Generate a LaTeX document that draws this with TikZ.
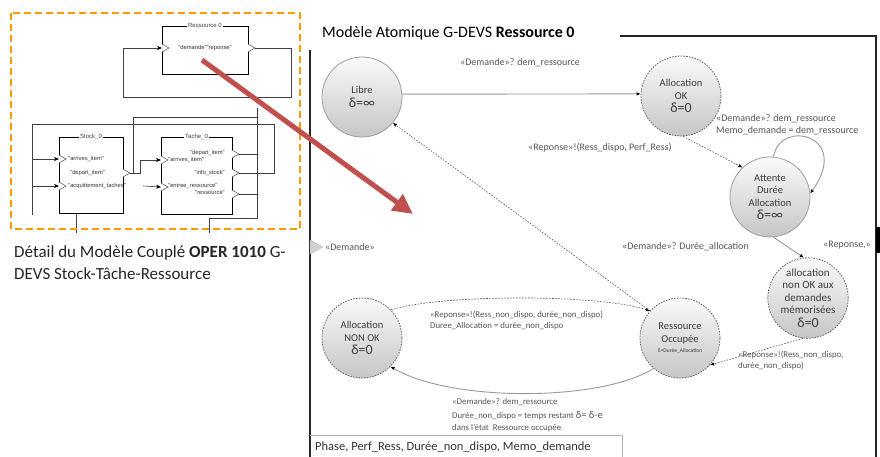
\documentclass[tikz,border=0pt]{standalone}
\usepackage{fontspec}
\setmainfont{Carlito}
\newfontfamily\schemfont{Liberation Sans}
\usetikzlibrary{arrows.meta,calc}
\definecolor{orangeD}{RGB}{255,153,0}
\definecolor{redA}{RGB}{192,80,77}
\definecolor{labc}{RGB}{88,86,80}
\definecolor{statec}{RGB}{60,60,60}
\newcommand\porttri[1]{\draw[port] ($(#1)+(0,-4)$) -- ++(7,4) -- ++(-7,4);}
\newcommand\dlt[1]{{\fontsize{14}{16}\selectfont #1}}
\begin{document}
\begin{tikzpicture}[x=1pt,y=-1pt,
  cl/.style={draw=gray!50!black, line width=0.6pt},
  ca/.style={cl, -{Stealth[length=5pt,width=4pt,color=black]}},
  cbox/.style={draw=black, line width=0.9pt, fill=white, inner sep=0pt},
  ctitle/.style={fill=white, inner sep=1pt, font=\schemfont\fontsize{6}{7}\selectfont, text=gray!50!black},
  ctext/.style={inner sep=0pt, font=\schemfont\fontsize{5.8}{7}\selectfont, text=gray!40!black},
  port/.style={draw=gray!55!black, fill=white, line width=0.5pt},
  st/.style={circle, minimum size=80pt, inner sep=0pt, align=center, text=statec,
     font=\fontsize{10.5}{12.5}\selectfont, top color=gray!4, bottom color=gray!45,
     draw=gray!75, line width=0.8pt},
  stdash/.style={st, draw=black!60, dash pattern=on 1.6pt off 1.2pt},
  tr/.style={draw=gray!80, line width=0.9pt, -{Latex[length=4pt,width=3.5pt,color=black]}},
  dt/.style={draw=black!65, line width=0.6pt, dash pattern=on 1.6pt off 1.4pt, -{Latex[length=4pt,width=3.5pt,color=black]}},
  lb/.style={anchor=west, inner sep=0pt, text=labc, font=\fontsize{10}{12}\selectfont},
  lbs/.style={anchor=west, inner sep=0pt, text=labc, font=\fontsize{8.8}{11}\selectfont},
]
\useasboundingbox (0,0) rectangle (880,457);
\fill[white] (0,0) rectangle (880,457);

% ---------------- coupled model ----------------
\coordinate (rin) at (162,48);
\coordinate (rout) at (255,48);
\coordinate (sin1) at (59,159);
\coordinate (sin2) at (59,186);
\coordinate (sout) at (130,173);
\coordinate (tin1) at (161,160);
\coordinate (tin2) at (161,187);
\coordinate (tout1) at (239,154);
\coordinate (tout2) at (239,173);
\coordinate (tout3) at (239,194);
\coordinate (acq) at (143,186);

\draw[ca] (rout) -| (291,97) -| (123,48) -- (rin);
\draw[cl] (tout2) -| (274,124) -| (32,215);
\draw[ca] (32,159) -- (sin1);
\draw[ca] (32,186) -- (sin2);
\draw[ca] (sout) -- (140,173) |- (tin1);
\draw[cl] (133,173) |- (257,117);
\draw[cl] (tout1) -- (257,154);
\draw[cl] (tout3) -- (257,194);
\draw[cl] (257,108) -- (257,218) -| (209,233);
\draw[cl] (76,213) -- (76,233);

\node[cbox, minimum width=86pt, minimum height=48pt] (res) at (205,50) {};
\node[cbox, minimum width=64pt, minimum height=76pt] (stock) at (91,175) {};
\node[cbox, minimum width=71pt, minimum height=77pt] (tache) at (196.5,175.5) {};
\node[ctitle] (rest) at (res.north) {Ressource 0};
\node[ctitle] (stockt) at (stock.north) {Stock\_0};
\node[ctitle] (tachet) at (tache.north) {Tache\_0};

\porttri{rin}
\porttri{248,48}
\porttri{sin1}
\porttri{sin2}
\porttri{123,173}
\porttri{tin1}
\porttri{tin2}
\porttri{232,154}
\porttri{232,173}
\porttri{232,194}
\draw[ca] (acq) -- (tin2);

\node[ctext] (rtx) at (205,48) {"demande""reponse"};
\node[ctext, anchor=west] (s1) at (68,159) {"arrives\_item"};
\node[ctext, anchor=west] (s2) at (70,173) {"depart\_item"};
\node[ctext, anchor=west] (s3) at (68,186) {"acquittement\_taches"};
\node[ctext, anchor=east] (t1) at (225,153) {"depart\_item"};
\node[ctext, anchor=west] (t2) at (168,160) {"arrives\_item"};
\node[ctext, anchor=east] (t3) at (225,173) {"info\_stock"};
\node[ctext, anchor=west] (t4) at (168,186) {"entree\_ressource"};
\node[ctext, anchor=east] (t5) at (225,193) {"ressource"};

\draw[orangeD, line width=2.5pt, dash pattern=on 7pt off 4pt] (11,13) rectangle (300,229);

\node[anchor=base west, inner sep=0pt, font=\fontsize{17}{19}\selectfont, text=black!85] (cap1) at (14,257) {Détail du Modèle Couplé \textbf{OPER 1010} G-};
\node[anchor=base west, inner sep=0pt, font=\fontsize{17}{19}\selectfont, text=black!85] (cap2) at (14,279) {DEVS Stock-Tâche-Ressource};

% ---------------- atomic model frame ----------------
\node[anchor=base west, inner sep=0pt, font=\fontsize{16}{18}\selectfont, text=black] (title) at (322,38) {Modèle Atomique G-DEVS \textbf{Ressource 0}};
\draw[black!85, line width=1.8pt] (620,36) -- (876,36) -- (876,457);
\draw[black!85, line width=2.2pt] (310,50) -- (310,457);
\fill[black] (876,227) rectangle (880,253);
\draw[fill=gray!35, draw=gray!60] (310,240) -- (323,247) -- (310,254) -- cycle;
\draw[gray!60, line width=1pt] (310,435) -| (622,457);
\node[anchor=west, inner sep=0pt, font=\fontsize{12.5}{14}\selectfont, text=black!80] (vars) at (315,447) {Phase, Perf\_Ress, Durée\_non\_dispo, Memo\_demande};

% ---------------- states ----------------
\node[st] (libre) at (362,97) {Libre\\[1pt]\dlt{δ=∞}};
\node[stdash] (allocok) at (681,96) {Allocation\\OK\\[1pt]\dlt{δ=0}};
\node[st] (attente) at (770,197) {Attente\\Durée\\Allocation\\[1pt]\dlt{δ=∞}};
\node[stdash, font=\fontsize{11}{12.5}\selectfont] (nonokmem) at (808,298) {allocation\\non OK aux\\demandes\\mémorisées\\[1pt]\dlt{δ=0}};
\node[stdash] (occ) at (680,338) {Ressource\\Occupée\\[-2pt]{\fontsize{5.5}{6}\selectfont δ=Durée\_Allocation}};
\node[stdash] (nonok) at (362,338) {Allocation\\NON OK\\[1pt]\dlt{δ=0}};

% ---------------- transitions ----------------
\draw[tr] (libre.4) -- (allocok.177);
\draw[dt] (allocok.-87) -- (attente.133);
\draw[tr] (attente.85) .. controls (780,118) and (852,135) .. (attente.5);
\draw[tr] (attente.-85) -- (nonokmem.96);
\draw[dt] (occ.138) -- (libre.-40);
\draw[dt] (nonok.44) .. controls (440,294) and (600,294) .. (occ.138);
\draw[dt] (nonokmem.-97) -- (occ.-42);
\draw[tr] (occ.-131) .. controls (600,402) and (450,402) .. (nonok.-45);

% ---------------- labels ----------------
\node[lb] (l1) at (460,63) {«Demande»? dem\_ressource};
\node[lb] (l2) at (528,148) {«Reponse»!(Ress\_dispo, Perf\_Ress)};
\node[lb, align=left] (l3) at (716,125) {«Demande»? dem\_ressource\\Memo\_demande = dem\_ressource};
\node[lb] (l4) at (325,247) {«Demande»};
\node[lb] (l5) at (622,247) {«Demande»? Durée\_allocation};
\node[lb] (l6) at (823,245) {«Reponse,»};
\node[lbs, align=left] (l7) at (738,360) {«Reponse»!(Ress\_non\_dispo,\\durée\_non\_dispo)};
\node[lbs, align=left] (l8) at (430,320) {«Reponse»!(Ress\_non\_dispo, durée\_non\_dispo)\\Duree\_Allocation = durée\_non\_dispo};
\node[lbs] (l9) at (452,402) {«Demande»? dem\_ressource};
\node[lbs] (l10) at (452,416) {Durée\_non\_dispo = temps restant {\fontsize{10.5}{10}\selectfont δ= δ-e}};
\node[lbs] (l11) at (452,428) {dans l'état \ Ressource occupée};

% ---------------- red arrow ----------------
\coordinate (ra) at (202,60);
\coordinate (rb) at (413,214);
\draw[redA, line width=5pt, -{Triangle[length=20pt,width=19pt]}] (ra) -- (rb);
\end{tikzpicture}
\end{document}
